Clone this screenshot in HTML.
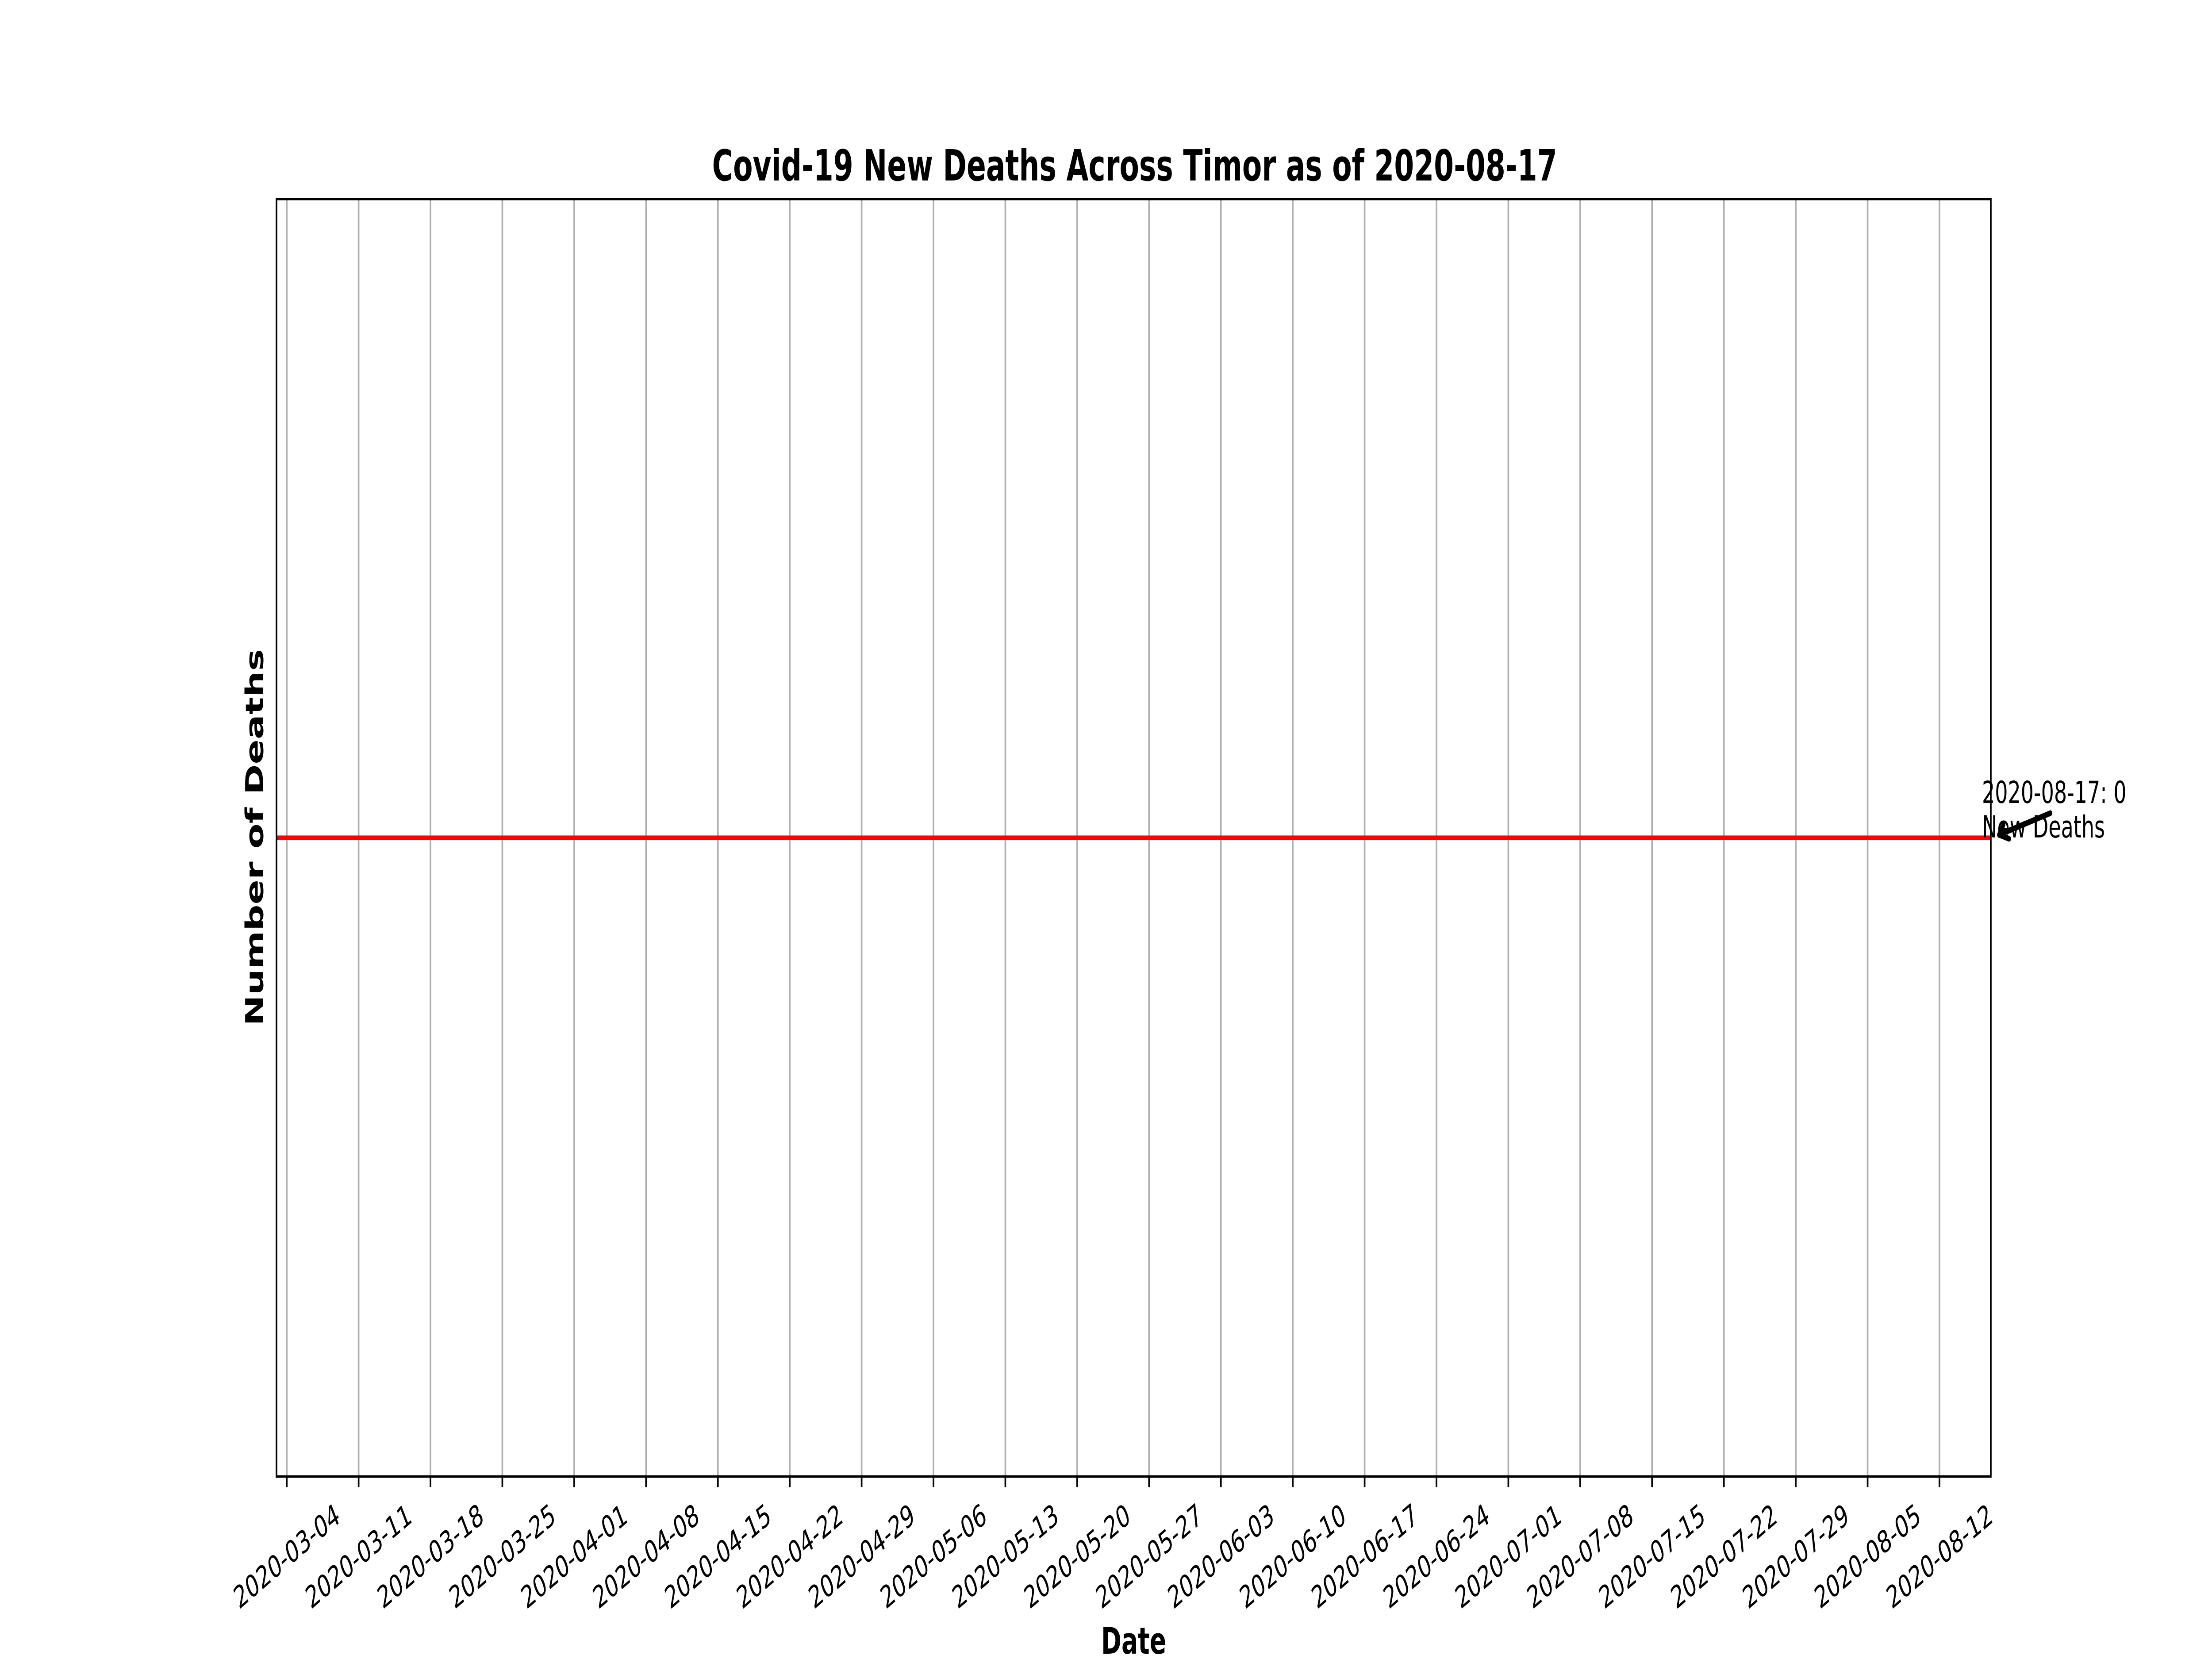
<!DOCTYPE html>
<html>
<head>
<meta charset="utf-8">
<meta name="viewport" content="width=7500, initial-scale=1">
<style>
html,body{margin:0;padding:0;background:#fff;width:100%;height:100%;overflow:hidden;}
svg{display:block;width:100vw;height:100vh;}
text{font-family:"DejaVu Sans","Liberation Sans",sans-serif;fill:#000;}
</style>
</head>
<body>
<svg id="chart" viewBox="0 0 7500 3750" preserveAspectRatio="none" xmlns="http://www.w3.org/2000/svg">
  <rect x="0" y="0" width="7500" height="3750" fill="#fff"/>
  <g id="grid"></g>
  <g id="series"></g>
  <rect x="937.5" y="450" width="5812.5" height="2887.5" fill="none" stroke="#000" stroke-width="5.5"/>
  <g id="xticks"></g>
  <text x="3847" y="408" font-size="97" font-weight="bold" text-anchor="middle" textLength="2865" lengthAdjust="spacingAndGlyphs">Covid-19 New Deaths Across Timor as of 2020-08-17</text>
  <text x="3844" y="3738" font-size="83" font-weight="bold" text-anchor="middle">Date</text>
  <text x="0" y="0" font-size="83" font-weight="bold" text-anchor="middle" transform="translate(892,1893) rotate(-90)">Number of Deaths</text>
  <g id="annotation">
    <text x="6720" y="1815" font-size="69">2020-08-17: 0</text>
    <text x="6720" y="1893" font-size="69">New Deaths</text>
    <g stroke="#000" stroke-width="13" stroke-linecap="round" fill="none">
      <line x1="6952" y1="1838" x2="6778" y2="1887"/>
      <line x1="6778" y1="1887" x2="6812" y2="1896"/>
      <line x1="6778" y1="1887" x2="6793" y2="1864"/>
    </g>
  </g>
</svg>
<script>
// ---- data ----
const tickLabels = ["2020-03-04","2020-03-11","2020-03-18","2020-03-25","2020-04-01","2020-04-08","2020-04-15","2020-04-22","2020-04-29","2020-05-06","2020-05-13","2020-05-20","2020-05-27","2020-06-03","2020-06-10","2020-06-17","2020-06-24","2020-07-01","2020-07-08","2020-07-15","2020-07-22","2020-07-29","2020-08-05","2020-08-12"];
const seriesStart = "2020-03-03";
const seriesEnd = "2020-08-17";
const newDeaths = [0];  // every day in the range has 0 new deaths
const xDomain = ["2020-03-03","2020-08-17"];
const yDomain = [-0.055, 0.055];

// ---- axes ----
const NS = "http://www.w3.org/2000/svg";
const L = 937.5, R = 6750, T = 450, B = 3337.5;
const DAY = 86400000;
function d(s){ return Date.parse(s + "T00:00:00Z"); }
const x0 = d(xDomain[0]), x1 = d(xDomain[1]);
function xScale(s){ return L + (d(s) - x0) / (x1 - x0) * (R - L); }
function yScale(v){ return B - (v - yDomain[0]) / (yDomain[1] - yDomain[0]) * (B - T); }

const grid = document.getElementById('grid');
const xt = document.getElementById('xticks');
tickLabels.forEach(function(lab){
  const x = xScale(lab);
  const g = document.createElementNS(NS, 'line');
  g.setAttribute('x1', x); g.setAttribute('x2', x);
  g.setAttribute('y1', T); g.setAttribute('y2', B);
  g.setAttribute('stroke', '#b0b0b0'); g.setAttribute('stroke-width', '5.5');
  
  
  grid.appendChild(g);

  const t = document.createElementNS(NS, 'line');
  t.setAttribute('x1', x); t.setAttribute('x2', x);
  t.setAttribute('y1', B); t.setAttribute('y2', B + 24);
  t.setAttribute('stroke', '#000'); t.setAttribute('stroke-width', '5.5');
  
  
  xt.appendChild(t);

  const tx = document.createElementNS(NS, 'text');
  tx.setAttribute('x', 0); tx.setAttribute('y', 0);
  tx.setAttribute('font-size', '69');
  tx.setAttribute('text-anchor', 'middle');
  tx.setAttribute('dominant-baseline', 'central');
  tx.setAttribute('transform', 'translate(' + x + ',3518) rotate(-30)');
  tx.textContent = lab;
  
  
  xt.appendChild(tx);
});

// ---- series ----
const pts = [];
const s0 = d(seriesStart), s1 = d(seriesEnd);
let i = 0;
for (let t = s0; t <= s1; t += DAY, i++) {
  const iso = new Date(t).toISOString().slice(0, 10);
  const v = newDeaths[Math.min(i, newDeaths.length - 1)];
  pts.push(xScale(iso).toFixed(2) + ',' + yScale(v).toFixed(2));
}
const pl = document.createElementNS(NS, 'polyline');
pl.setAttribute('points', pts.join(' '));
pl.setAttribute('fill', 'none');
pl.setAttribute('stroke', '#ff0000');
pl.setAttribute('stroke-width', '10.4');


document.getElementById('series').appendChild(pl);
</script>
</body>
</html>
